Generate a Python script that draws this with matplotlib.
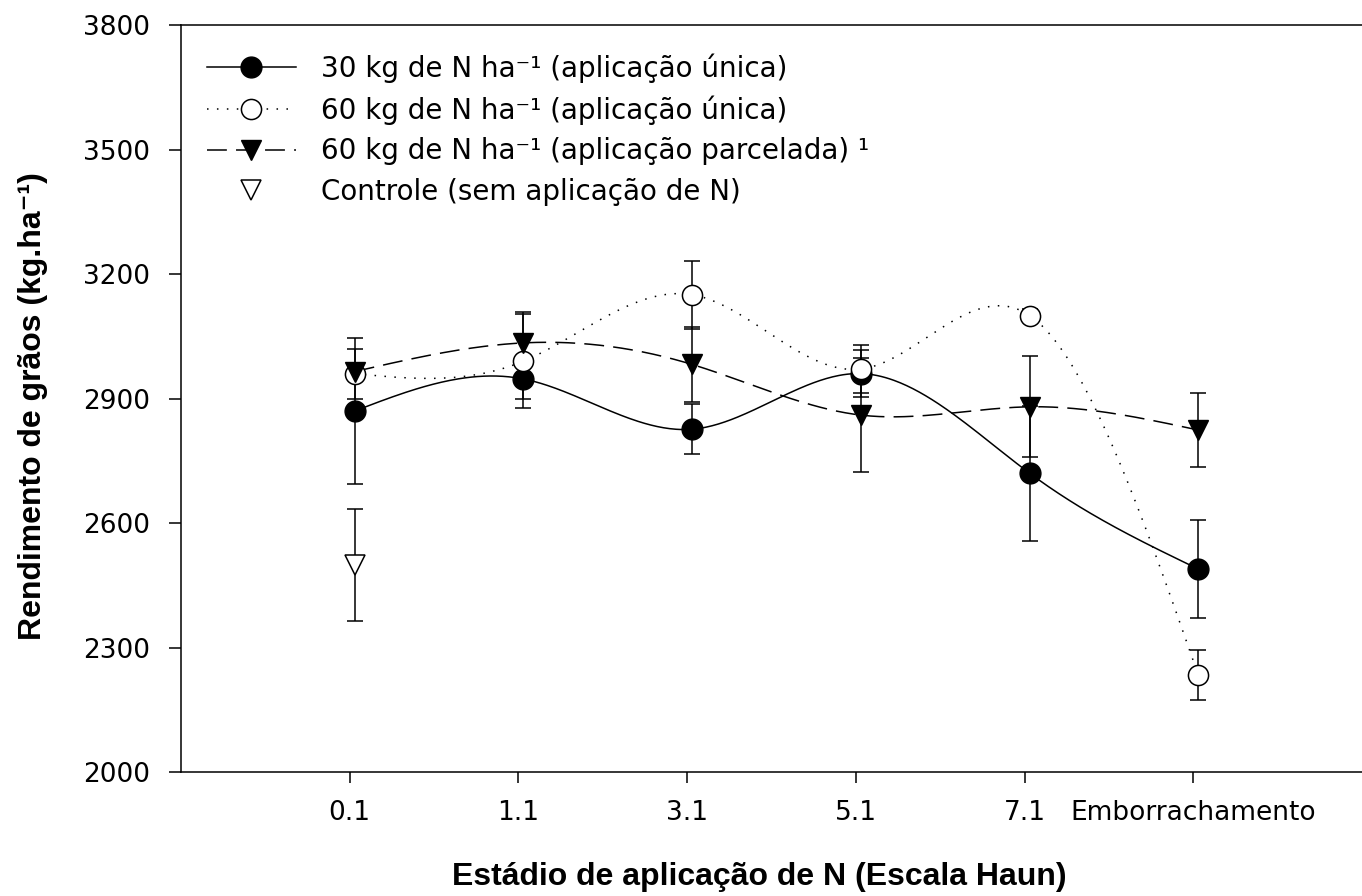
import numpy as np
import matplotlib
matplotlib.use("Agg")
import matplotlib.pyplot as plt
from matplotlib.lines import Line2D

plt.rcParams['font.family'] = ['DejaVu Sans']

# estadio de aplicacao (escala Haun)
estadios = ['0.1', '1.1', '3.1', '5.1', '7.1', 'Emborrachamento']

# rendimento de graos (kg/ha) e erro
n30_unica = [2870, 2947, 2826, 2960, 2720, 2489]
n30_unica_err = [175, 48, 60, 57, 163, 118]
n60_unica = [2960, 2990, 3150, 2971, 3100, 2233]
n60_unica_err = [60, 113, 82, 58, 15, 60]
n60_parcelada = [2965, 3034, 2982, 2860, 2880, 2824]
n60_parcelada_err = [20, 74, 90, 137, 122, 89]
controle = [2499]
controle_err = [135]


def spline(x, y, xs):
    # spline cubica natural
    x = np.asarray(x, float); y = np.asarray(y, float)
    n = len(x); h = np.diff(x)
    A = np.zeros((n, n)); b = np.zeros(n)
    A[0, 0] = A[-1, -1] = 1
    for i in range(1, n - 1):
        A[i, i - 1] = h[i - 1]
        A[i, i] = 2 * (h[i - 1] + h[i])
        A[i, i + 1] = h[i]
        b[i] = 3 * ((y[i + 1] - y[i]) / h[i] - (y[i] - y[i - 1]) / h[i - 1])
    c = np.linalg.solve(A, b)
    bb = (y[1:] - y[:-1]) / h - h * (2 * c[:-1] + c[1:]) / 3
    d = (c[1:] - c[:-1]) / (3 * h)
    k = np.clip(np.searchsorted(x, xs) - 1, 0, n - 2)
    t = xs - x[k]
    return y[k] + bb[k] * t + c[k] * t ** 2 + d[k] * t ** 3


fig = plt.figure(figsize=(13.62, 8.96), dpi=100)
ax = fig.add_axes([181 / 1362, 124 / 896, 1181 / 1362, 747 / 896])

xt = np.arange(1, len(estadios) + 1)
xp = xt + 0.03
xs = np.linspace(xp[0], xp[-1], 400)

lw = 1.1
ek = dict(fmt='none', ecolor='black', elinewidth=lw, capsize=6, capthick=lw, zorder=2)

ax.errorbar(xp, n30_unica, yerr=n30_unica_err, **ek)
ax.errorbar(xp, n60_unica, yerr=n60_unica_err, **ek)
ax.errorbar(xp, n60_parcelada, yerr=n60_parcelada_err, **ek)
ax.errorbar(xp[:1], controle, yerr=controle_err, **ek)

ax.plot(xs, spline(xp, n30_unica, xs), color='black', lw=lw, ls='-', zorder=3)
ax.plot(xs, spline(xp, n60_unica, xs), color='black', lw=lw, ls=(0, (1, 5.5)), zorder=3)
ax.plot(xs, spline(xp, n60_parcelada, xs), color='black', lw=lw, ls=(0, (13, 6)), zorder=3)

ax.plot(xp, n30_unica, 'o', ms=15, mfc='black', mec='black', zorder=4)
ax.plot(xp, n60_unica, 'o', ms=14.5, mfc='white', mec='black', mew=lw, zorder=4)
ax.plot(xp, n60_parcelada, 'v', ms=14.5, mfc='black', mec='black', zorder=4)
ax.plot(xp[:1], controle, 'v', ms=14.5, mfc='white', mec='black', mew=lw, zorder=4)

ax.set_xlim(0, 7)
ax.set_ylim(2000, 3800)
ax.set_yticks(np.arange(2000, 3801, 300))
ax.set_xticks(xt)
ax.set_xticklabels(estadios)
ax.tick_params(axis='y', direction='out', length=8.5, width=lw, labelsize=19, pad=14)
ax.tick_params(axis='x', direction='out', length=8, width=lw, labelsize=19, pad=12.5)
for s in ['left', 'bottom', 'top']:
    ax.spines[s].set_linewidth(lw)
ax.spines['right'].set_visible(False)

lab_font = dict(family=['Liberation Sans', 'DejaVu Sans'], fontweight='bold', fontsize=23)
ax.set_ylabel('Rendimento de grãos (kg.ha⁻¹)', **lab_font)
ax.yaxis.set_label_coords(-0.113, 0.49)
ax.set_xlabel('Estádio de aplicação de N (Escala Haun)', **lab_font)
ax.xaxis.set_label_coords(0.49, -0.12)

handles = [
    Line2D([], [], color='black', lw=lw, ls='-', marker='o', ms=15, mfc='black'),
    Line2D([], [], color='black', lw=lw, ls=(0, (1, 5.5)), marker='o', ms=14.5, mfc='white', mew=lw),
    Line2D([], [], color='black', lw=lw, ls=(0, (13, 6)), marker='v', ms=14.5, mfc='black'),
    Line2D([], [], color='black', ls='none', marker='v', ms=14.5, mfc='white', mew=lw),
]
labels = [
    '30 kg de N ha⁻¹ (aplicação única)',
    '60 kg de N ha⁻¹ (aplicação única)',
    '60 kg de N ha⁻¹ (aplicação parcelada) ¹',
    'Controle (sem aplicação de N)',
]
ax.legend(handles, labels, loc='upper left', bbox_to_anchor=(0.022, 0.962),
          frameon=False, fontsize=20, handlelength=3.2, handletextpad=0.9,
          labelspacing=0.45, borderpad=0, borderaxespad=0, numpoints=1)

fig.savefig('out.png', dpi=100)
